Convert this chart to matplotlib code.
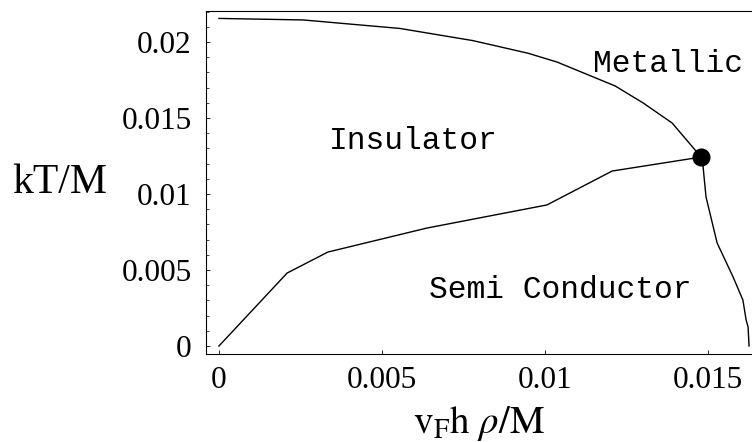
import numpy as np
import matplotlib
matplotlib.use("Agg")
import matplotlib.pyplot as plt
from matplotlib.ticker import MultipleLocator

plt.rcParams['mathtext.fontset'] = 'stix'

# phase boundaries
upper_x = [0.0, 0.00258, 0.00555, 0.00779, 0.00948, 0.01037, 0.01215, 0.01301, 0.0139, 0.01479]
upper_y = [0.02155, 0.02145, 0.02089, 0.02009, 0.01926, 0.01868, 0.01711, 0.01599, 0.01467, 0.01243]

lower_x = [0.0, 0.00209, 0.00334, 0.00638, 0.01006, 0.01206, 0.01479]
lower_y = [0.0, 0.0048, 0.00618, 0.00776, 0.00928, 0.01151, 0.01243]

right_x = [0.01479, 0.01485, 0.01494, 0.01528, 0.01577, 0.01607, 0.01617, 0.01623, 0.01626]
right_y = [0.01243, 0.01178, 0.0098, 0.00678, 0.00454, 0.00303, 0.00171, 0.00125, 0.0]

triple = (0.01479, 0.01243)

xticks = [0, 0.005, 0.01, 0.015]
xtick_labels = ['0', '0.005', '0.01', '0.015']
yticks = [0, 0.005, 0.01, 0.015, 0.02]
ytick_labels = ['0', '0.005', '0.01', '0.015', '0.02']

fig = plt.figure(figsize=(7.52, 4.42), dpi=100)
ax = fig.add_axes([0.2735, 0.1991, 0.7265, 0.7771])

ax.plot(upper_x, upper_y, color='black', lw=1.0)
ax.plot(lower_x, lower_y, color='black', lw=1.0)
ax.plot(right_x, right_y, color='black', lw=1.0)
ax.plot(triple[0], triple[1], 'o', color='black', markersize=12)

ax.text(0.01377, 0.01803, 'Metallic', family='Liberation Mono', fontsize=22.5,
        ha='center', va='baseline')
ax.text(0.00597, 0.01296, 'Insulator', family='Liberation Mono', fontsize=22.5,
        ha='center', va='baseline')
ax.text(0.01046, 0.00316, 'Semi Conductor', family='Liberation Mono', fontsize=22.5,
        ha='center', va='baseline')

ax.set_xlim(-0.000408, 0.01635)
ax.set_ylim(-0.000526, 0.02207)
ax.spines['right'].set_visible(False)

ax.set_xticks(xticks)
ax.set_xticklabels(xtick_labels, family='Liberation Serif', fontsize=22.5)
ax.set_yticks(yticks)
ax.set_yticklabels(ytick_labels, family='Liberation Serif', fontsize=22.5)
ax.yaxis.set_minor_locator(MultipleLocator(0.001))
ax.tick_params(axis='both', which='major', direction='in', length=3, width=0.6)
ax.tick_params(axis='y', which='minor', direction='in', length=2, width=0.5)
ax.tick_params(axis='x', pad=9)
ax.tick_params(axis='y', pad=10)

fig.text(12 / 752, 1 - 193 / 442, 'kT/M', family='Liberation Serif', fontsize=30,
         ha='left', va='baseline')
fig.text(413 / 752, 1 - 433 / 442, r'$\mathrm{v_F h}\ \rho\mathrm{/M}$', fontsize=28,
         ha='left', va='baseline')

fig.savefig('out.png', dpi=100)
